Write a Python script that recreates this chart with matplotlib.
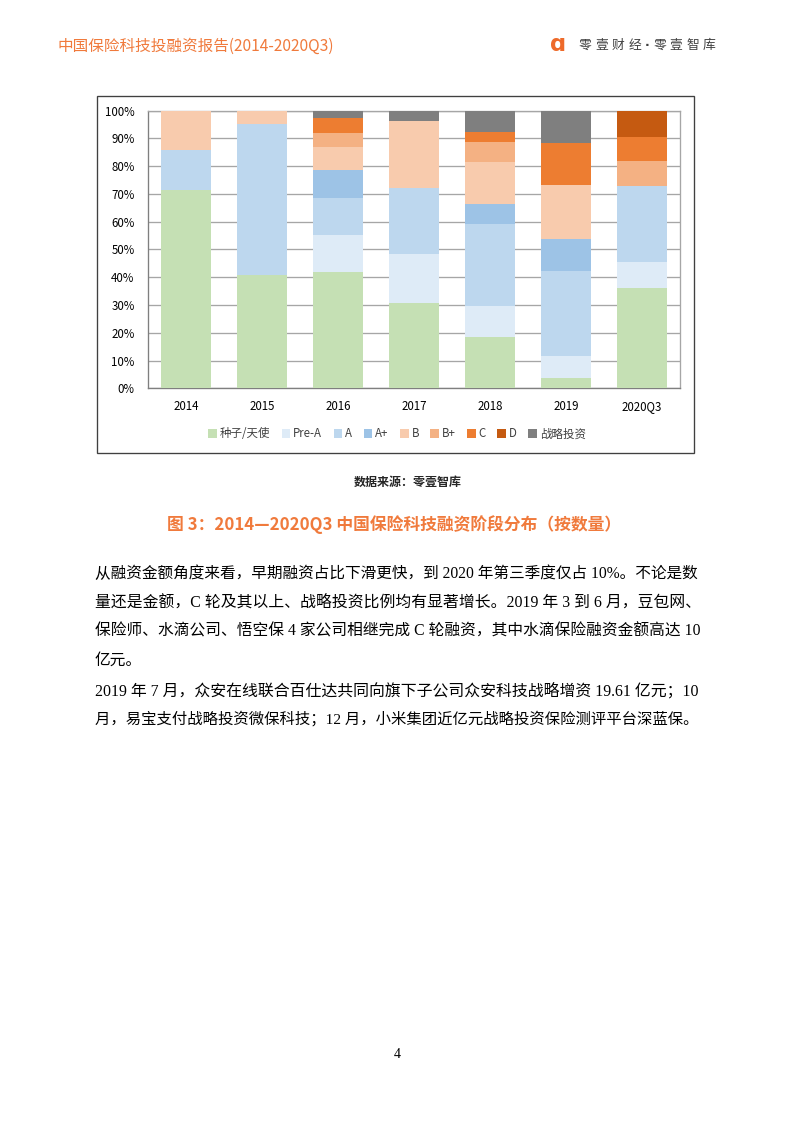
import matplotlib
matplotlib.use("Agg")
import matplotlib.pyplot as plt
from matplotlib.patches import Rectangle, Patch
import numpy as np

plt.rcParams['font.family'] = ['Noto Sans CJK SC', 'DejaVu Sans']

# ---------------- data ----------------
categories = ['2014', '2015', '2016', '2017', '2018', '2019', '2020Q3']
stages = ['种子/天使', 'Pre-A', 'A', 'A+', 'B', 'B+', 'C', 'D', '战略投资']
seed   = [71.4, 40.8, 41.9, 30.7, 18.5,  3.7, 36.3]
pre_a  = [ 0.0,  0.0, 13.3, 17.7, 11.2,  7.9,  9.2]
a      = [14.3, 54.4, 13.3, 23.9, 29.5, 30.7, 27.2]
a_plus = [ 0.0,  0.0, 10.3,  0.0,  7.3, 11.5,  0.0]
b      = [14.3,  4.8,  8.1, 24.1, 15.0, 19.3,  0.0]
b_plus = [ 0.0,  0.0,  5.2,  0.0,  7.2,  0.0,  9.2]
c      = [ 0.0,  0.0,  5.1,  0.0,  3.7, 15.3,  8.6]
d      = [ 0.0,  0.0,  0.0,  0.0,  0.0,  0.0,  9.5]
strat  = [ 0.0,  0.0,  2.8,  3.6,  7.6, 11.6,  0.0]
series = [seed, pre_a, a, a_plus, b, b_plus, c, d, strat]
colors = ['#C5E0B4', '#DEEBF7', '#BDD7EE', '#9DC3E6', '#F8CBAD',
          '#F4B183', '#ED7D31', '#C55A11', '#7F7F7F']
yticks = [0, 10, 20, 30, 40, 50, 60, 70, 80, 90, 100]

W, H = 793, 1122
fig = plt.figure(figsize=(W / 96, H / 96), dpi=96)

def fx(x):
    return x / W

def fy(y):
    return 1 - y / H

ORANGE = '#F07A3C'

# ---------------- header ----------------
fig.text(fx(58), fy(46), '中国保险科技投融资报告(2014-2020Q3)', color=ORANGE,
         fontsize=11.7, va='center', ha='left')
fig.text(fx(558), fy(44.5), 'ɑ', color='#EE6A2A', fontsize=17, fontweight='bold',
         va='center', ha='center', family=['DejaVu Sans'])
logo_chars = ['零', '壹', '财', '经', '·', '零', '壹', '智', '库']
logo_x = [585, 601.5, 618, 634.5, 647, 659.5, 676, 692.5, 709]
for ch, xx in zip(logo_chars, logo_x):
    fam = ['DejaVu Sans'] if ch == '·' else ['Noto Sans CJK SC']
    fig.text(fx(xx), fy(45), ch, color='#404040', fontsize=9.6,
             va='center', ha='center', family=fam,
             fontweight='bold' if ch == '·' else 'normal')

# ---------------- chart box ----------------
fig.patches.append(Rectangle((fx(97), fy(453)), fx(694) - fx(97), fy(96) - fy(453),
                             transform=fig.transFigure, fill=False,
                             edgecolor='#404040', linewidth=1.0, zorder=0))

ax = fig.add_axes([fx(148), fy(388.3), fx(680) - fx(148), fy(110.7) - fy(388.3)])
x = np.arange(len(categories))
bottom = np.zeros(len(categories))
for vals, col, lab in zip(series, colors, stages):
    vals = np.array(vals)
    ax.bar(x, vals, width=0.66, bottom=bottom, color=col, label=lab,
           edgecolor='none', zorder=3)
    bottom += vals

ax.set_xlim(-0.5, len(categories) - 0.5)
ax.set_ylim(0, 100)
ax.set_yticks(yticks)
ax.set_yticklabels([f'{t}%' for t in yticks])
ax.set_xticks(x)
ax.set_xticklabels(categories)
ax.yaxis.grid(True, color='#A6A6A6', linewidth=1.0, zorder=0)
ax.set_axisbelow(True)
ax.tick_params(axis='both', length=0, labelsize=8.6, colors='#000000')
ax.tick_params(axis='y', pad=10)
ax.tick_params(axis='x', pad=9)
for side in ['top', 'right']:
    ax.spines[side].set_color('#A6A6A6')
    ax.spines[side].set_linewidth(1.0)
ax.spines['left'].set_color('#7F7F7F')
ax.spines['bottom'].set_color('#7F7F7F')
ax.spines['left'].set_linewidth(1.0)
ax.spines['bottom'].set_linewidth(1.0)

handles = [Patch(facecolor=c_, edgecolor='none', label=l_) for c_, l_ in zip(colors, stages)]
leg = fig.legend(handles=handles, loc='center', bbox_to_anchor=(fx(397), fy(434)),
                 ncol=9, frameon=False, fontsize=8.6, handlelength=0.75,
                 handleheight=0.75, handletextpad=0.25, columnspacing=1.0)
for t in leg.get_texts():
    t.set_color('#404040')

# ---------------- source & caption ----------------
fig.text(fx(408), fy(482), '数据来源：零壹智库', color='#262626', fontsize=9,
         fontweight='bold', ha='center', va='center')
fig.text(fx(394), fy(525), '图 3：2014—2020Q3 中国保险科技融资阶段分布（按数量）',
         color=ORANGE, fontsize=12.6, fontweight='bold', ha='center', va='center')

# ---------------- body text ----------------
body_font = ['Liberation Serif', 'Noto Sans CJK SC']
lines = [
    (574, '从融资金额角度来看，早期融资占比下滑更快，到 2020 年第三季度仅占 10%。不论是数'),
    (603, '量还是金额，C 轮及其以上、战略投资比例均有显著增长。2019 年 3 到 6 月，豆包网、'),
    (632, '保险师、水滴公司、悟空保 4 家公司相继完成 C 轮融资，其中水滴保险融资金额高达 10'),
    (661, '亿元。'),
    (691, '2019 年 7 月，众安在线联合百仕达共同向旗下子公司众安科技战略增资 19.61 亿元；10'),
    (719, '月，易宝支付战略投资微保科技；12 月，小米集团近亿元战略投资保险测评平台深蓝保。'),
]
justify = [True, True, True, False, True, True]
fig.canvas.draw()
renderer = fig.canvas.get_renderer()
for (yy, s), jus in zip(lines, justify):
    t = fig.text(fx(95), fy(yy), s, fontsize=11.8, color='#000000', ha='left',
                 va='center', family=body_font)
    if jus:
        bb = t.get_window_extent(renderer)
        target = 700 - 95
        if bb.width > 0:
            t.set_fontsize(11.8 * target / bb.width)

# ---------------- page number ----------------
fig.text(fx(397), fy(1055), '4', fontsize=10.5, color='#000000', ha='center',
         va='center', family=['Liberation Serif'])

fig.savefig('out.png', dpi=96)
